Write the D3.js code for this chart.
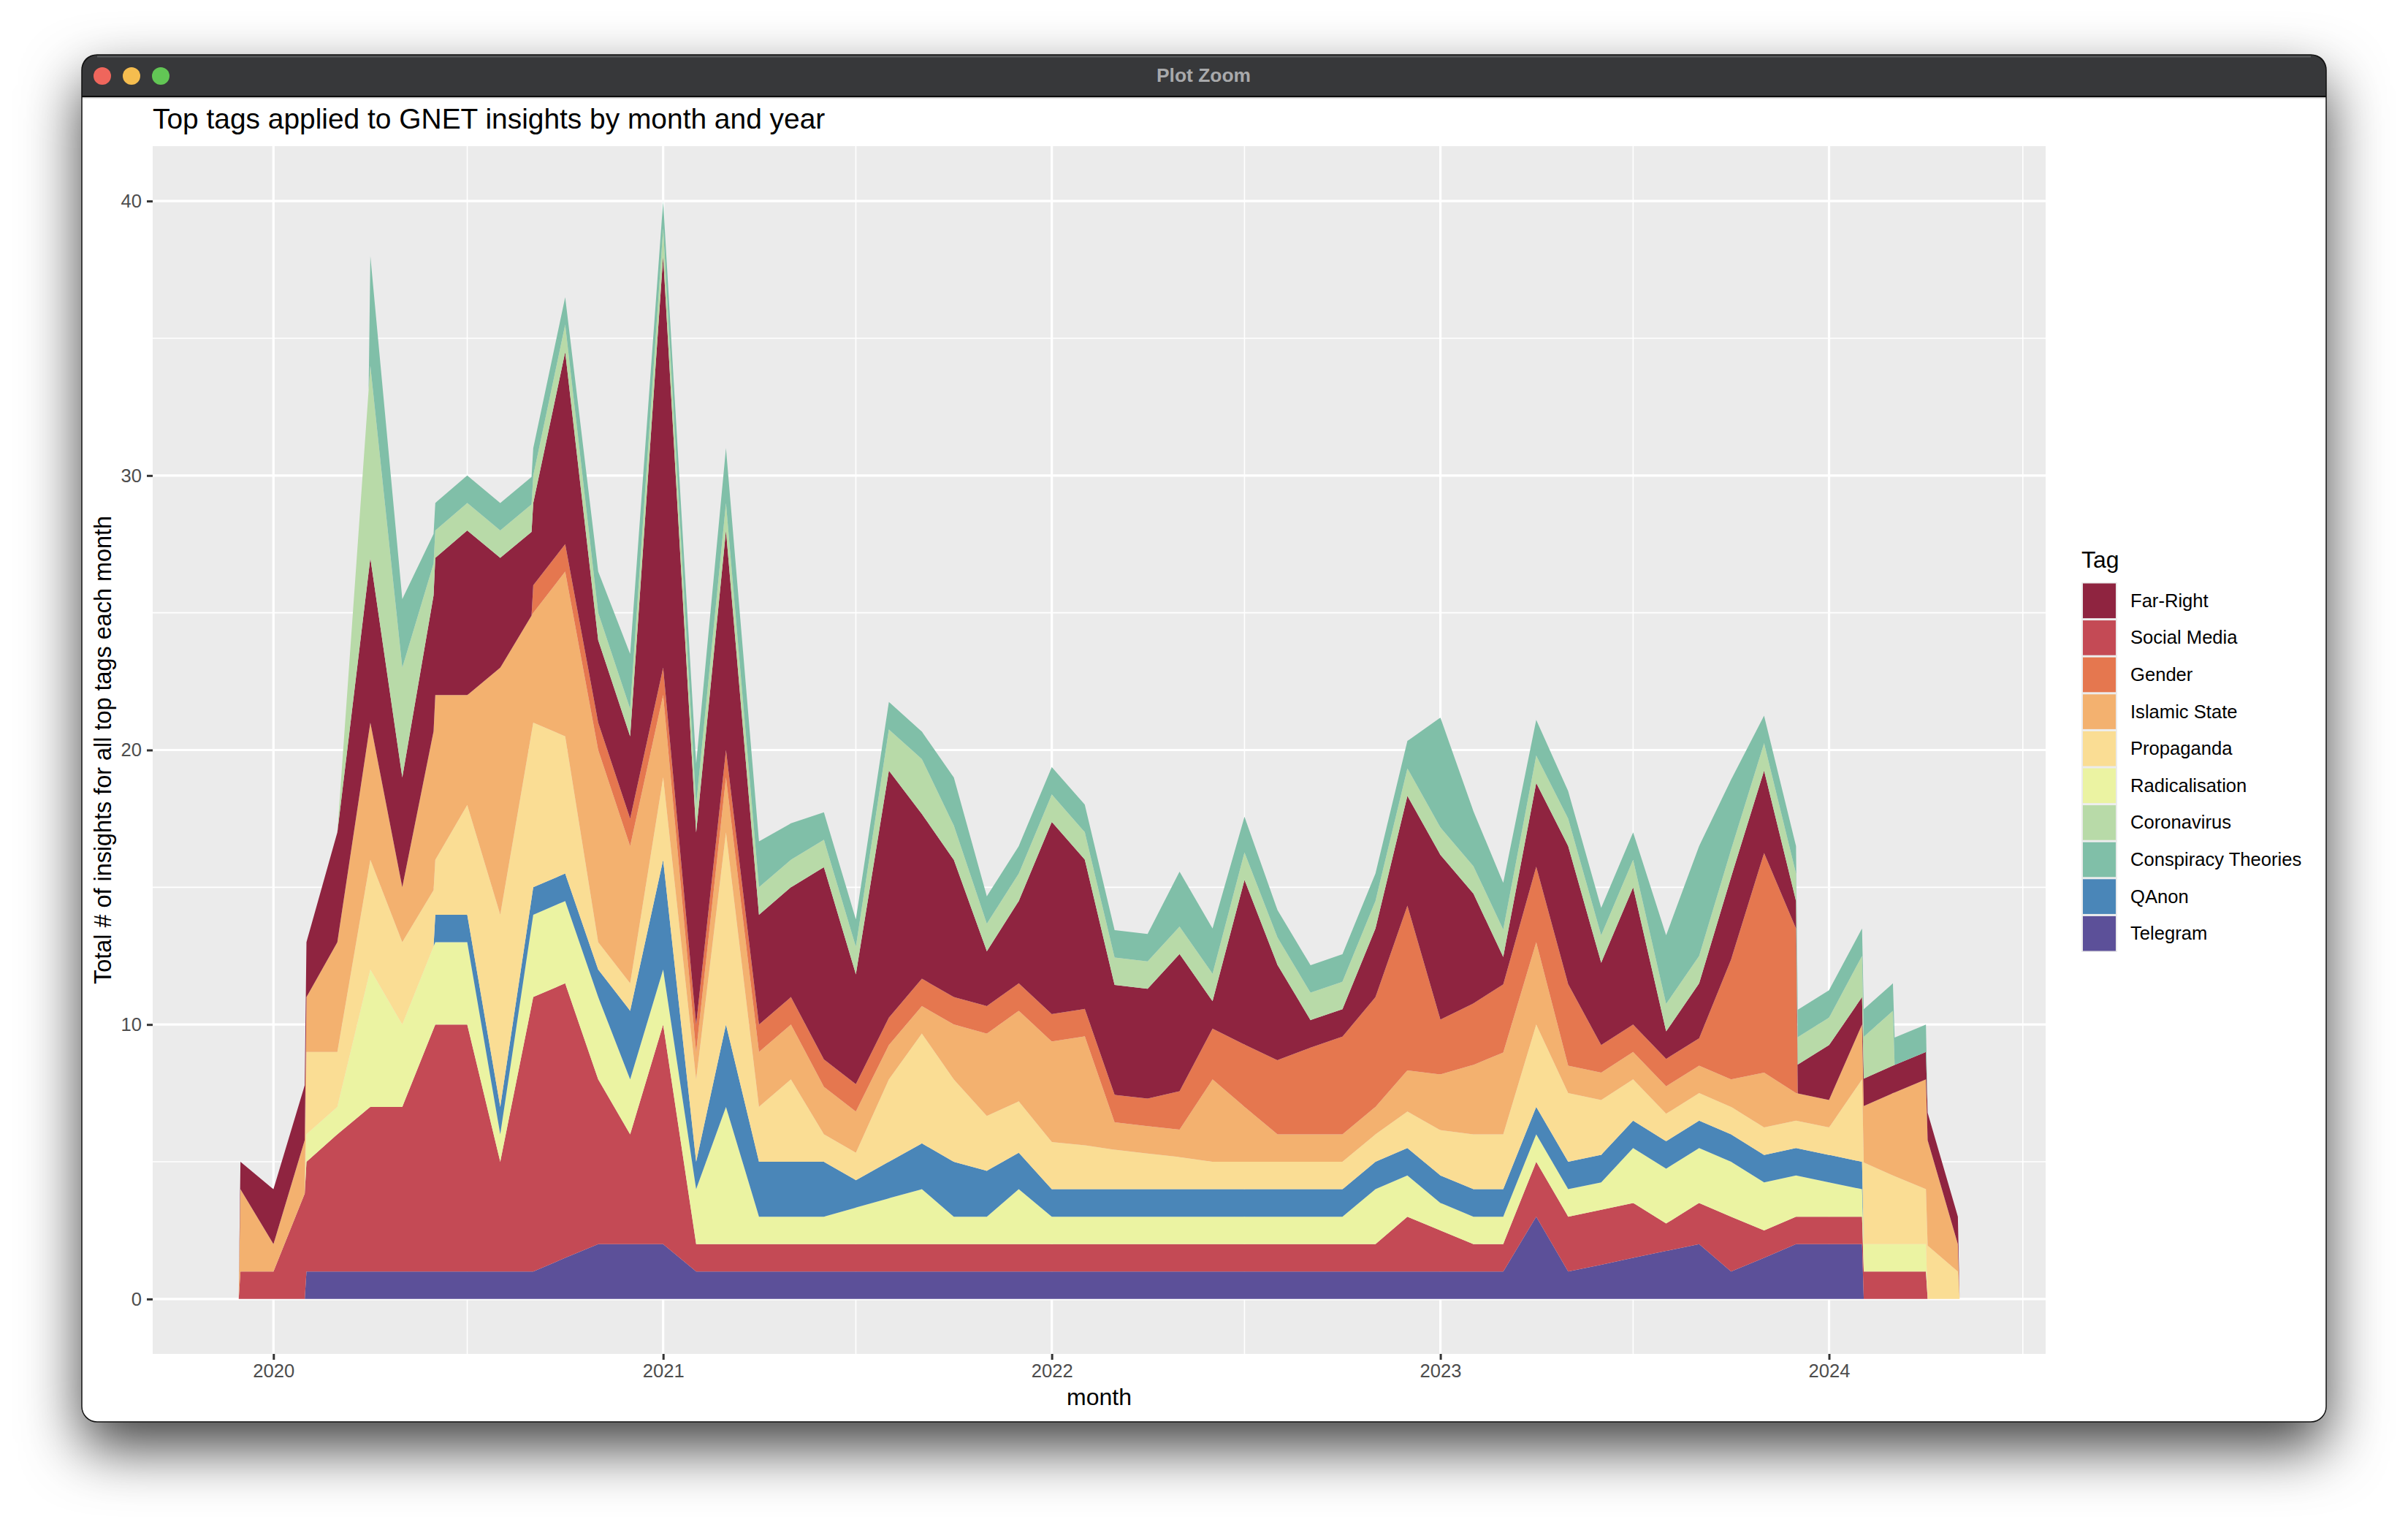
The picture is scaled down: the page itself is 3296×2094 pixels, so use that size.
<!DOCTYPE html>
<html>
<head>
<meta charset="utf-8">
<script src="https://cdn.jsdelivr.net/npm/d3@7"></script>
<style>
  html, body { margin: 0; padding: 0; background: #fff; }
  #page { position: relative; width: 3296px; height: 2094px; overflow: hidden; background: #fff; }
  #window {
    position: absolute; left: 112px; top: 75px; width: 3072px; height: 1871px;
    background: #fff; border-radius: 21px; box-shadow: 0 35px 80px rgba(0,0,0,.75);
  }
  svg { position: absolute; left: 0; top: 0; }
  text { font-family: "Liberation Sans", Arial, sans-serif; }
</style>
</head>
<body>
<div id="page"><div id="window"></div><svg id="chart" width="3296" height="2094"></svg></div>
<script>
// monthly values, Dec 2019 to May 2024, null = tag not in use yet / any more
var months = d3.range(0, 54).map(function(i) { return new Date(Date.UTC(2019, 11 + i, 1)); });

var telegram = [null,
  null,1,1,1,1,1,1,1,1,1.5,2,2,
  2,1,1,1,1,1,1,1,1,1,1,1,
  1,1,1,1,1,1,1,1,1,1,1,1,
  1,1,1,3,1,1.25,1.5,1.75,2,1,1.5,2,
  2,2,null,null,null];
var socialMedia = [1,
  1,4,5,6,6,9,9,4,10,10,6,4,
  8,1,1,1,1,1,1,1,1,1,1,1,
  1,1,1,1,1,1,1,1,1,1,1,2,
  1.5,1,1,2,2,2,2,1,1.5,2,1,1,
  1,1,1,1,null];
var radicalisation = [null,
  null,1,1,5,3,3,3,1,3,3,3,2,
  2,2,5,1,1,1,1.33,1.67,2,1,1,2,
  1,1,1,1,1,1,1,1,1,1,2,1.5,
  1,1,1,1,1,1,2,2,2,2,1.75,1.5,
  1.25,1,1,1,null];
var qanon = [null,
  null,null,null,null,null,1,1,1,1,1,1,2.5,
  4,1,3,2,2,2,1,1.33,1.67,2,1.67,1.33,
  1,1,1,1,1,1,1,1,1,1,1,1,
  1,1,1,1,1,1,1,1,1,1,1,1,
  1,1,null,null,null];
var propaganda = [null,
  null,3,2,4,3,2,4,7,6,5,1,1,
  3,3,7,2,3,1,1,3,4,3,2,1.87,
  1.72,1.6,1.44,1.3,1.17,1,1,1,1,1,1,1.33,
  1.65,2,2,3,2.5,2,1.5,1,1,1,1,1,
  1,3,2.5,2,1];
var islamicState = [3,
  1,2,4,5,2,6,4,9,4,6,7,5,
  3,1,2,2,2,1.73,1.5,1.25,1,2,3,3.3,
  3.66,3.97,1,1,1,3,2,1,1,1,1,1.5,
  2.03,2.53,2.98,3,1,1,1,1,1,1,2,1,
  1,2,3,4,1];
var gender = [null,
  null,null,null,null,null,null,null,null,1,1,1,1,
  1,1,1,1,1,1,1,1,1,1,1,1,
  1,1,1,1,1.4,1.85,2.27,2.7,3.16,3.56,4,6,
  2,2.24,2.48,2.75,2.97,1,1,1,1,4.37,8,6,
  null,null,null,null,null];
var farRight = [1,
  2,2,4,6,4,5,6,4,3,7,3,3,
  15,7,8,4,4,7,4,9,6,5,2,3,
  7,5.44,4,4,5,1,6,3.47,1,1,2.5,4,
  6,4,1,3.05,5.03,3,5,1,2,3,3,1,
  2,1,1,1,1];
var coronavirus = [null,
  null,null,0,7,4,1,1,1,1,1,1,1,
  1,1,1,1,1,1,1,1.5,2,1.25,1,1,
  1,1,1,1,1,1,1,1,1,1,1,1,
  1,1,1,1,1,1,1,1,1,1,1,1,
  1,1.5,2,null,null];
var conspiracy = [null,
  null,null,null,4,2.5,1,1,1,1,1,1.5,2,
  1,1.5,2,1.67,1.33,1,1,1,1,1.75,1,1,
  1,1,1,1,2,1.65,1.3,1,1,1,1,1,
  4,2,1.7,1.3,1,1,1,2.5,4,2.55,1,1,
  1,1,1,1,null];

var legendTags = ["Far-Right", "Social Media", "Gender", "Islamic State", "Propaganda",
                  "Radicalisation", "Coronavirus", "Conspiracy Theories", "QAnon", "Telegram"];
var tagColors = ["#8f2440", "#c44a55", "#e5774f", "#f3b16f", "#fadd94",
                 "#ebf3a2", "#b8daa8", "#80bfa8", "#4a86b8", "#5c5099"];
// bottom to top of the stack
var stackTags = ["Telegram", "Social Media", "Radicalisation", "QAnon", "Propaganda",
                 "Islamic State", "Gender", "Far-Right", "Coronavirus", "Conspiracy Theories"];
var tagValues = {
  "Telegram": telegram, "Social Media": socialMedia, "Radicalisation": radicalisation,
  "QAnon": qanon, "Propaganda": propaganda, "Islamic State": islamicState, "Gender": gender,
  "Far-Right": farRight, "Coronavirus": coronavirus, "Conspiracy Theories": conspiracy
};
var yearTicks = [2020, 2021, 2022, 2023, 2024];
var minorYears = [2020, 2021, 2022, 2023, 2024];
var yTicks = [0, 10, 20, 30, 40];
var yMinor = [5, 15, 25, 35];

var svg = d3.select("#chart");

// window title bar
var winLeft = 112, winRight = 3184, winTop = 75, winBottom = 1946, barBottom = 132, r = 21;
svg.append("path")
  .attr("d", "M" + winLeft + "," + barBottom + "V" + (winTop + r) + "Q" + winLeft + "," + winTop + " " + (winLeft + r) + "," + winTop +
    "H" + (winRight - r) + "Q" + winRight + "," + winTop + " " + winRight + "," + (winTop + r) + "V" + barBottom + "Z")
  .attr("fill", "#37383a");
svg.append("rect").attr("x", winLeft + r).attr("y", winTop + 1.5).attr("width", winRight - winLeft - 2 * r).attr("height", 2).attr("fill", "#5d5e60");
svg.append("rect").attr("x", winLeft).attr("y", barBottom - 1).attr("width", winRight - winLeft).attr("height", 2).attr("fill", "#0c0c0c");
svg.append("rect").attr("x", winLeft).attr("y", barBottom + 1).attr("width", winRight - winLeft).attr("height", 1.5).attr("fill", "#c4c4c4");
svg.append("rect").attr("x", winLeft).attr("y", winTop).attr("width", winRight - winLeft).attr("height", winBottom - winTop)
  .attr("rx", r).attr("ry", r).attr("fill", "none").attr("stroke", "#111").attr("stroke-width", 1.5);
[["#ef665c", 140], ["#f5bd4f", 180], ["#62c655", 220]].forEach(function(b) {
  svg.append("circle").attr("cx", b[1]).attr("cy", 104).attr("r", 12).attr("fill", b[0]);
});
svg.append("text").attr("x", 1647.5).attr("y", 112).attr("text-anchor", "middle")
  .attr("font-size", 26.4).attr("font-weight", "bold").attr("fill", "#a8a9ab").text("Plot Zoom");

// panel
var panel = { left: 209, right: 2800, top: 200, bottom: 1853 };
svg.append("rect").attr("x", panel.left).attr("y", panel.top)
  .attr("width", panel.right - panel.left).attr("height", panel.bottom - panel.top).attr("fill", "#ebebeb");

// same alignment ggplot's stat_align does: every tag gets the shared x positions, and drops
// to zero just outside its own range
var span = +months[months.length - 1] - +months[0];
var adjust = span * 0.001;
var locs = [];
months.forEach(function(m) { locs.push(+m - adjust, +m, +m + adjust); });

function valueAt(vals, t) {
  var have = months.map(function(m, i) { return i; }).filter(function(i) { return vals[i] !== null; });
  var first = +months[have[0]], last = +months[have[have.length - 1]];
  if (t < first || t > last) return 0;
  for (var k = 0; k < have.length; k++) {
    var a = have[k], ta = +months[a];
    if (t === ta) return vals[a];
    var b = have[k + 1];
    if (b !== undefined && t > ta && t < +months[b]) {
      return vals[a] + (vals[b] - vals[a]) * (t - ta) / (+months[b] - ta);
    }
  }
  return 0;
}

var rows = locs.map(function(t) {
  var row = { t: t };
  stackTags.forEach(function(tag) { row[tag] = valueAt(tagValues[tag], t); });
  return row;
});

// scales with ggplot's 5% expansion on x
var xMin = locs[0], xMax = locs[locs.length - 1], xPad = (xMax - xMin) * 0.05;
var x = d3.scaleUtc()
  .domain([new Date(xMin - xPad), new Date(xMax + xPad)])
  .range([panel.left, panel.right]);
var y = d3.scaleLinear().domain([-2, 42]).range([panel.bottom, panel.top]);
var color = d3.scaleOrdinal().domain(legendTags).range(tagColors);

// gridlines
var grid = svg.append("g").attr("stroke", "#fff").attr("fill", "none");
yMinor.forEach(function(v) {
  grid.append("line").attr("x1", panel.left).attr("x2", panel.right).attr("y1", y(v)).attr("y2", y(v)).attr("stroke-width", 1.6);
});
minorYears.forEach(function(yr) {
  var px = x(new Date(Date.UTC(yr, 6, 1)));
  grid.append("line").attr("x1", px).attr("x2", px).attr("y1", panel.top).attr("y2", panel.bottom).attr("stroke-width", 1.6);
});
yTicks.forEach(function(v) {
  grid.append("line").attr("x1", panel.left).attr("x2", panel.right).attr("y1", y(v)).attr("y2", y(v)).attr("stroke-width", 3.2);
});
yearTicks.forEach(function(yr) {
  var px = x(new Date(Date.UTC(yr, 0, 1)));
  grid.append("line").attr("x1", px).attr("x2", px).attr("y1", panel.top).attr("y2", panel.bottom).attr("stroke-width", 3.2);
});

// stacked areas
var series = d3.stack().keys(stackTags)(rows);
var area = d3.area()
  .x(function(d) { return x(new Date(d.data.t)); })
  .y0(function(d) { return y(d[0]); })
  .y1(function(d) { return y(d[1]); });

svg.append("g").selectAll("path")
  .data(series)
  .enter()
  .append("path")
  .attr("d", area)
  .attr("fill", function(d) { return color(d.key); });

// axes
var xAxis = d3.axisBottom(x)
  .tickValues(yearTicks.map(function(yr) { return new Date(Date.UTC(yr, 0, 1)); }))
  .tickFormat(d3.utcFormat("%Y"))
  .tickSize(8).tickPadding(6);
var yAxis = d3.axisLeft(y).tickValues(yTicks).tickSize(8).tickPadding(7);

var xG = svg.append("g").attr("transform", "translate(0," + panel.bottom + ")").call(xAxis);
var yG = svg.append("g").attr("transform", "translate(" + panel.left + ",0)").call(yAxis);
[xG, yG].forEach(function(g) {
  g.select(".domain").remove();
  g.selectAll("line").attr("stroke", "#333").attr("stroke-width", 3);
  g.selectAll("text").attr("font-size", 25.6).attr("fill", "#4d4d4d").attr("font-family", '"Liberation Sans", Arial, sans-serif');
});

// titles
svg.append("text").attr("x", panel.left).attr("y", 176).attr("font-size", 38.9).attr("fill", "#000")
  .text("Top tags applied to GNET insights by month and year");
svg.append("text").attr("x", (panel.left + panel.right) / 2).attr("y", 1923).attr("text-anchor", "middle")
  .attr("font-size", 32).attr("fill", "#000").text("month");
svg.append("text").attr("transform", "translate(152," + ((panel.top + panel.bottom) / 2) + ") rotate(-90)")
  .attr("text-anchor", "middle").attr("font-size", 32.4).attr("fill", "#000")
  .text("Total # of insights for all top tags each month");

// legend
var legend = svg.append("g");
legend.append("text").attr("x", 2849).attr("y", 777).attr("font-size", 32).attr("fill", "#000").text("Tag");
var keyTop = 797, keyStep = 50.6, keyW = 49;
legendTags.forEach(function(tag, i) {
  legend.append("rect").attr("x", 2849).attr("y", keyTop + i * keyStep).attr("width", keyW).attr("height", keyStep).attr("fill", "#ebebeb");
  legend.append("rect").attr("x", 2851).attr("y", keyTop + i * keyStep + 1.5).attr("width", keyW - 4).attr("height", keyStep - 3).attr("fill", color(tag));
  legend.append("text").attr("x", 2916).attr("y", keyTop + i * keyStep + keyStep / 2 + 8.5).attr("font-size", 25.6).attr("fill", "#000").text(tag);
});
</script>
</body>
</html>
